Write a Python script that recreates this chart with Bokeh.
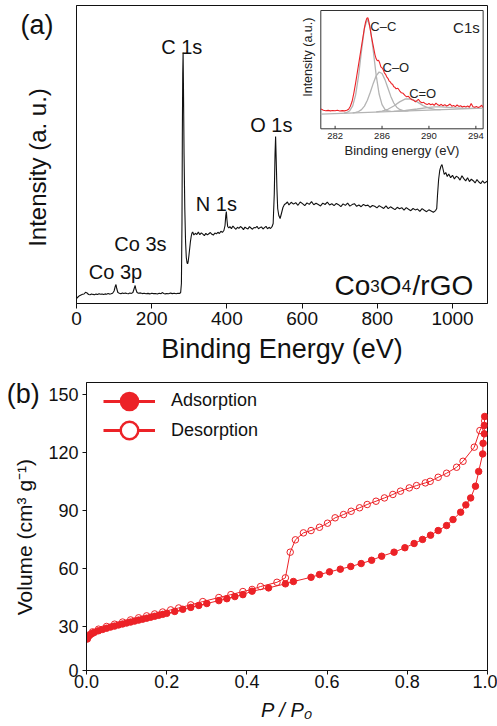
from bokeh.plotting import figure
from bokeh.layouts import column
from bokeh.models import Range1d, FixedTicker, Label, Legend, LegendItem, PrintfTickFormatter
from bokeh.core.properties import value
from bokeh.embed import file_html
from bokeh.resources import INLINE
import math

FONT = "Liberation Sans"
INK = "#111111"
RED = "#EC2227"
GRAY = "#B4B4B4"

# ---------------- data: (a) XPS survey ----------------
survey_energy = [0, 4, 8, 12, 16, 20, 24, 28, 32, 36, 40, 44, 48, 52, 56, 60, 64, 68, 72, 76, 80, 84, 88, 92, 96,
                 100, 103, 105, 107, 110, 114, 118, 122, 126, 130, 134, 138, 142, 146, 150, 153, 156, 158, 161,
                 165, 170, 175, 180, 185, 190, 195, 200, 205, 210, 215, 220, 225, 228, 232, 236, 240, 245, 250,
                 255, 260, 265, 270, 274, 277,
                 279, 280.5, 281.5, 282.5, 283.5, 284.5, 286, 288, 290, 292, 294, 295.5, 297, 299, 301, 303, 305,
                 307, 309,
                 312, 316, 320, 324, 328, 332, 336, 340, 344, 348, 352, 356, 360, 364, 368, 372, 376, 380, 384,
                 388, 392,
                 395, 397, 398.5, 400, 402, 405,
                 408, 412, 416, 420, 424, 428, 432, 436, 440, 444, 448, 452, 456, 460, 464, 468, 472, 476, 480,
                 484, 488, 492, 496, 500, 504, 508, 512, 516, 520,
                 523, 526, 528, 529.5, 531, 533, 535, 538, 541.5, 545, 549, 553, 557, 561,
                 565, 571, 577, 583, 589, 595, 601, 607, 613, 619, 625, 631, 637, 643, 649, 655, 661, 667, 673,
                 679, 685, 691, 697, 703, 709, 715, 721, 727, 733, 739, 745, 751, 757, 763, 769, 775, 781, 787,
                 793, 799, 805, 811, 817, 823, 829, 835, 841, 847, 853, 859, 865, 871, 877, 883, 889, 895, 901,
                 907, 913, 919, 925, 931, 937, 943, 949, 955,
                 958, 960, 963, 966, 969, 972, 975, 978, 982, 986,
                 990, 995, 1000, 1005, 1010, 1015, 1020, 1025, 1030, 1035, 1040, 1045, 1050, 1055, 1060, 1065,
                 1070, 1075, 1080, 1085, 1090, 1095]
survey_intensity = [5.0, 6.5, 7.8, 8.6, 9.2, 9.5, 11.2, 10.6, 9.0, 8.8, 9.6, 9.1, 8.7, 9.4, 9.0, 9.8, 9.2, 9.5,
                    8.9, 9.6, 9.3, 9.9, 9.4, 9.7, 10.2,
                    12.5, 17.0, 19.0, 15.0, 11.0, 10.3, 9.8, 10.5, 9.9, 10.4, 10.0, 9.7, 10.6, 10.1, 11.0, 14.5,
                    18.0, 14.0, 11.0,
                    10.2, 10.6, 9.9, 10.3, 9.8, 10.1, 9.6, 10.2, 9.9, 10.0, 9.5, 10.3, 9.8, 10.9, 10.1, 9.6, 10.0,
                    9.7, 10.4, 9.9, 10.2, 9.8, 10.3, 10.0, 11.0,
                    20, 80, 170, 230, 251, 215, 150, 95, 62, 46, 40.5, 39.7, 42, 48, 55, 62, 67, 70.5, 71.5,
                    68.5, 70.2, 69.0, 71.4, 68.8, 70.6, 69.3, 67.9, 70.1, 68.6, 69.8, 71.0, 69.2, 68.4, 70.5, 69.6,
                    71.2, 70.0, 72.3, 71.1, 73.0,
                    78, 88, 92, 84, 77, 75.5,
                    76.8, 74.9, 77.5, 75.6, 74.2, 76.3, 75.1, 77.0, 75.8, 73.9, 76.4, 75.2, 74.6, 76.9, 75.5, 74.3,
                    76.0, 75.7, 77.2, 74.8, 75.9, 76.6, 74.5, 75.8, 77.1, 74.7, 76.2, 75.0, 76.8,
                    80, 110, 150, 167, 145, 115, 95, 88, 85, 90, 96, 99, 100, 101.5,
                    98.6, 101.2, 99.4, 100.8, 98.2, 101.5, 99.9, 97.8, 100.6, 99.1, 101.9, 98.7, 100.2, 98.9, 97.6,
                    100.4, 99.0, 101.3, 98.5, 99.7, 97.9, 100.1, 98.8, 96.9, 99.6, 98.1, 100.3, 97.4, 98.9, 99.8,
                    97.2, 98.5, 96.8, 99.1, 97.7, 98.4, 96.2, 98.0, 97.3, 95.6, 97.9, 96.4, 95.1, 97.6, 94.8, 96.7,
                    95.3, 93.9, 96.2, 94.7, 95.8, 93.4, 95.9, 94.2, 92.8, 95.0, 93.6, 94.4, 92.1, 94.9, 93.2, 91.8,
                    93.7, 92.5, 91.2, 92.9,
                    95, 108, 124, 133, 137, 139, 134, 129, 131, 127,
                    129.5, 125.8, 128.2, 124.6, 127.3, 126.1, 123.4, 127.8, 124.9, 122.6, 125.7, 121.9, 124.3,
                    122.8, 120.6, 123.9, 121.5, 119.8, 122.7, 120.4, 121.8, 123.0]
survey_ticks = [0, 200, 400, 600, 800, 1000]
peak_names = ["Co 3p", "Co 3s", "C 1s", "N 1s", "O 1s"]
sample_name = ["Co", "3", "O", "4", "/rGO"]

# ---------------- data: (a) inset, C1s high resolution ----------------
c1s_energy = [280.8, 281.0, 281.2, 281.4, 281.6, 281.8, 282.0, 282.2, 282.4, 282.6, 282.8, 283.0, 283.15, 283.3,
              283.45, 283.6, 283.75, 283.9, 284.05, 284.2, 284.35, 284.5, 284.6, 284.7, 284.8, 284.9, 285.0,
              285.1, 285.2, 285.3, 285.4, 285.5, 285.6, 285.7, 285.8, 285.9, 286.0, 286.1, 286.2, 286.3, 286.4,
              286.5, 286.6, 286.7, 286.8, 286.9, 287.0, 287.1, 287.2, 287.35, 287.5, 287.65, 287.8, 287.95,
              288.1, 288.25, 288.4, 288.55, 288.7, 288.85, 289.0, 289.1, 289.25, 289.4, 289.55, 289.7, 289.85,
              290.0, 290.15, 290.3, 290.45, 290.6, 290.75, 290.9, 291.05, 291.2, 291.35, 291.5, 291.65, 291.8,
              291.95, 292.1, 292.25, 292.4, 292.55, 292.7, 292.85, 293.0, 293.15, 293.3, 293.45, 293.6, 293.75,
              293.9, 294.05, 294.2, 294.35, 294.5, 294.6]
c1s_intensity = [19.8, 18.6, 18.1, 18.4, 17.9, 18.3, 18.0, 18.6, 17.8, 18.2, 17.9, 18.5, 19.6, 22.5, 27.5, 36,
                 46, 57, 68, 79, 90, 101, 107, 110.5, 111, 106, 99, 92, 86, 80, 74, 70, 68, 68.5, 66, 62, 61, 59,
                 56, 54.5, 52, 50.5, 48, 47, 45, 44.5, 42, 41.5, 40, 40.5, 38, 36, 35.5, 33.5, 32, 32.5, 30.5, 29,
                 28.5, 27, 28.5, 29.5, 27, 26, 26.5, 25, 24.2, 25.3, 24, 24.8, 23.5, 25.6, 24, 23.2, 24.5, 23,
                 24.2, 22.8, 23.6, 24.8, 22.6, 23.3, 22.2, 23.8, 22.4, 23.1, 21.8, 22.6, 21.9, 22.8, 21.6, 25.2,
                 22, 21.5, 22.4, 21.2, 22.1, 23.5, 21.4]
cc_energy = [282.75, 283.0, 283.25, 283.5, 283.75, 284.0, 284.25, 284.5, 284.75, 285.0, 285.25, 285.5, 285.75,
             286.0, 286.25, 286.5, 286.75]
cc_fit = [15.6, 16.3, 18.1, 23.0, 33.9, 52.9, 77.9, 100.5, 109.7, 100.7, 78.3, 53.6, 34.8, 24.1, 19.4, 17.8, 17.4]
co_energy = [283.5, 283.75, 284.0, 284.25, 284.5, 284.75, 285.0, 285.25, 285.5, 285.75, 286.0, 286.25, 286.5,
             286.75, 287.0, 287.25, 287.5, 287.75, 288.0, 288.25]
co_fit = [16.0, 16.4, 17.3, 19.2, 22.7, 28.5, 36.5, 45.4, 53.0, 56.8, 55.3, 49.2, 40.8, 32.4, 25.8, 21.6, 19.4,
          18.4, 18.0, 18.0]
cdo_energy = [285.5, 286.0, 286.5, 287.0, 287.5, 288.0, 288.5, 289.0, 289.5, 290.0, 290.5, 291.0]
cdo_fit = [16.9, 17.7, 19.5, 22.8, 26.9, 29.9, 29.8, 26.9, 23.2, 20.6, 19.5, 19.2]
pi_energy = [287.0, 288.0, 289.0, 290.0, 290.5, 291.0, 292.0, 293.0, 294.0]
pi_fit = [17.5, 18.3, 19.8, 21.5, 21.9, 21.9, 21.1, 20.5, 20.5]
bg_energy = [280.78, 294.62]
bg_fit = [14.7, 20.7]
inset_ticks = [282, 286, 290, 294]
component_names = ["C\u2013C", "C\u2013O", "C=O"]

# ---------------- data: (b) N2 isotherm ----------------
p_ads = [0.002, 0.005, 0.01, 0.015, 0.02, 0.03, 0.04, 0.05, 0.06, 0.07, 0.08, 0.09, 0.10, 0.11, 0.12, 0.13, 0.14,
         0.15, 0.16, 0.17, 0.18, 0.19, 0.20, 0.22, 0.24, 0.26, 0.28, 0.30, 0.33, 0.35, 0.37, 0.39,
         0.413, 0.454, 0.496, 0.516, 0.560, 0.581, 0.606, 0.633, 0.659, 0.685, 0.711, 0.736, 0.767, 0.794, 0.817,
         0.838, 0.858, 0.877, 0.898, 0.914, 0.933, 0.946, 0.958, 0.970, 0.978, 0.988, 0.989, 0.992, 0.992, 0.993]
v_ads = [23.5, 24.8, 25.8, 26.5, 27.0, 27.8, 28.5, 29.1, 29.7, 30.2, 30.8, 31.3, 31.8, 32.3, 32.8, 33.3, 33.8,
         34.3, 34.8, 35.3, 35.8, 36.3, 36.8, 37.8, 38.9, 39.9, 40.9, 41.9, 43.4, 44.4, 45.5, 46.5,
         48.3, 50.0, 52.1, 53.3, 55.5, 56.9, 58.3, 59.7, 61.1, 62.6, 64.3, 66.4, 68.5, 70.8, 73.0,
         75.1, 77.3, 79.7, 82.3, 85.4, 89.2, 93.0, 96.6, 102.7, 110.3, 119.4, 124.9, 129.8, 134.1, 138.8]
p_des = [0.993, 0.981, 0.967, 0.939, 0.923, 0.898, 0.877, 0.857, 0.845, 0.823, 0.805, 0.783, 0.764, 0.743, 0.722,
         0.700, 0.681, 0.660, 0.641, 0.620, 0.601, 0.581, 0.560, 0.541, 0.521, 0.508, 0.496, 0.475, 0.434, 0.413,
         0.39, 0.36, 0.33, 0.29, 0.26, 0.23, 0.21, 0.19, 0.17, 0.15, 0.13, 0.11, 0.09, 0.07, 0.05, 0.03, 0.015,
         0.005]
v_des = [136.5, 131.5, 122.9, 115.6, 112.5, 109.4, 107.3, 105.2, 104.4, 103.0, 101.8, 100.1, 98.4, 96.6, 94.9,
         93.2, 91.5, 89.7, 88.0, 86.3, 83.5, 81.4, 79.7, 78.5, 74.9, 68.5, 55.2, 52.9, 50.7, 49.2,
         48.1, 46.5, 45.0, 42.9, 41.2, 39.6, 38.6, 37.5, 36.5, 35.5, 34.5, 33.4, 32.3, 31.2, 30.0, 28.6, 27.2,
         25.5]
iso_xticks = [0.0, 0.2, 0.4, 0.6, 0.8, 1.0]
iso_yticks = [0, 30, 60, 90, 120, 150]
series_names = ["Adsorption", "Desorption"]

# layout: each figure gets a wide left margin (so margin texts are not clipped) and is
# shifted left by CSS so that its frame lands where the reference frame is.
RESERVE = 140


def shifted_styles(width, shift):
    return {"margin-left": f"-{shift}px", "width": f"{width}px", "min-width": f"{width}px",
            "max-width": "none", "flex-shrink": "0"}


def style_axes(p):
    p.xgrid.visible = False
    p.ygrid.visible = False
    p.outline_line_color = INK
    p.outline_line_alpha = 1
    p.outline_line_width = 1
    p.background_fill_color = "white"
    p.border_fill_color = "white"
    for ax in (p.xaxis, p.yaxis):
        ax.axis_line_color = INK
        ax.major_tick_line_color = INK
        ax.minor_tick_line_color = None
        ax.major_tick_in = 0
        ax.major_label_text_font = FONT
        ax.major_label_text_color = INK
        ax.axis_label_text_font = FONT
        ax.axis_label_text_color = INK
        ax.axis_label_text_font_style = "normal"


def side_label(p, x, y, text, size, angle=0.0, align="left", baseline="alphabetic"):
    p.add_layout(Label(x=x, y=y, text=text, angle=angle, text_font=FONT, text_font_size=size,
                       text_color=INK, text_align=align, text_baseline=baseline), "left")


# ================= panel (a) =================
a_left = 76
a_width = 497 + RESERVE - a_left
pa = figure(width=a_width, height=372, x_range=Range1d(0, 1093), y_range=Range1d(0, 298),
            output_backend="svg", toolbar_location=None,
            min_border_left=RESERVE, min_border_right=10, min_border_top=5, min_border_bottom=69,
            styles=shifted_styles(a_width, RESERVE - a_left))
style_axes(pa)
pa.xaxis.ticker = FixedTicker(ticks=survey_ticks)
pa.xaxis.major_tick_out = 5
pa.xaxis.major_label_text_font_size = "19px"
pa.xaxis.major_label_standoff = 3
pa.xaxis.axis_label = "Binding Energy (eV)"
pa.xaxis.axis_label_text_font_size = "27px"
pa.xaxis.axis_label_standoff = 6
pa.yaxis.ticker = FixedTicker(ticks=[])
pa.yaxis.major_tick_line_color = None
pa.yaxis.major_tick_out = 0
pa.yaxis.major_label_standoff = 0

pa.line(survey_energy, survey_intensity, line_color=INK, line_width=1.1)

pa.text(x=[103.7, 170, 279.8, 372, 518], y=[31.3, 59.7, 256.3, 99.7, 179], text=peak_names,
        text_font=value(FONT), text_font_size="20px", text_color=INK,
        text_align="center", text_baseline="alphabetic")

# sample name with small digits
pa.text(x=[686.2] * 3, y=[18] * 3, x_offset=[0, 45.3, 78.0],
        text=[sample_name[0], sample_name[2], sample_name[4]],
        text_font=value(FONT), text_font_size="28px", text_color=INK,
        text_align="left", text_baseline="alphabetic")
pa.text(x=[686.2] * 2, y=[18] * 2, x_offset=[35.8, 67.1], text=[sample_name[1], sample_name[3]],
        text_font=value(FONT), text_font_size="17px", text_color=INK,
        text_align="left", text_baseline="alphabetic")

side_label(pa, -148.9, 279.0, "(a)", "27px")
side_label(pa, -103.7, 136, "Intensity (a. u.)", "24px", angle=math.pi / 2, align="center", baseline="middle")

# ---- inset (sub-coordinates) ----
ix = Range1d(280.78, 294.62)
iy = Range1d(0, 118.3)
ins = pa.subplot(x_source=ix, y_source=iy,
                 x_target=Range1d(649.7, 1081.4), y_target=Range1d(174.7, 293))
ins.quad(left=[ix.start], right=[ix.end], bottom=[iy.start], top=[iy.end],
         fill_color="white", line_color="#333333", line_width=1)
for ex, fy in [(bg_energy, bg_fit), (pi_energy, pi_fit), (cdo_energy, cdo_fit),
               (co_energy, co_fit), (cc_energy, cc_fit)]:
    ins.line(ex, fy, line_color=GRAY, line_width=1.3)
ins.line(c1s_energy, c1s_intensity, line_color=RED, line_width=1.1)
ins.segment(x0=inset_ticks, y0=[0] * len(inset_ticks), x1=inset_ticks, y1=[3] * len(inset_ticks),
            line_color="#333333", line_width=1)
ins.text(x=inset_ticks, y=[-6.7] * len(inset_ticks), text=[str(t) for t in inset_ticks],
         text_font=value(FONT), text_font_size="9.5px", text_color="#222222",
         text_align="center", text_baseline="middle")
ins.text(x=[(ix.start + ix.end) / 2], y=[-21.7], text=["Binding energy (eV)"],
         text_font=value(FONT), text_font_size="13px", text_color="#222222",
         text_align="center", text_baseline="middle")
ins.text(x=[279.67], y=[71.6], text=["Intensity (a.u.)"], angle=math.pi / 2,
         text_font=value(FONT), text_font_size="12.5px", text_color="#222222",
         text_align="center", text_baseline="middle")
ins.text(x=[285.0, 286.04, 288.31], y=[102, 61.6, 35.6], text=component_names,
         text_font=value(FONT), text_font_size="13px", text_color="#222222",
         text_align="left", text_baseline="alphabetic")
ins.text(x=[294.33], y=[101.6], text=["C1s"],
         text_font=value(FONT), text_font_size="15px", text_color="#222222",
         text_align="right", text_baseline="alphabetic")

# ================= panel (b) =================
b_left = 86
b_width = 497 + RESERVE - b_left
y_lo, y_hi = 7.2, 156.4
pb = figure(width=b_width, height=354, x_range=Range1d(0, 1.0), y_range=Range1d(y_lo, y_hi),
            output_backend="svg", toolbar_location=None,
            min_border_left=RESERVE, min_border_right=9, min_border_top=10, min_border_bottom=56,
            styles=shifted_styles(b_width, RESERVE - b_left))
style_axes(pb)
pb.xaxis.ticker = FixedTicker(ticks=iso_xticks)
pb.xaxis.formatter = PrintfTickFormatter(format="%.1f")
pb.yaxis.ticker = FixedTicker(ticks=[y_lo] + iso_yticks[1:])
pb.yaxis.major_label_overrides = {y_lo: str(iso_yticks[0])}
for ax in (pb.xaxis, pb.yaxis):
    ax.major_tick_out = 4
    ax.major_label_text_font_size = "18px"
pb.xaxis.major_label_standoff = 0
pb.yaxis.major_label_standoff = 4
pb.xaxis.axis_label = "P / P\u2080"
pb.xaxis.axis_label_text_font_style = "italic"
pb.xaxis.axis_label_text_font_size = "20px"
pb.xaxis.axis_label_standoff = 8

pb.line(p_des, v_des, line_color=RED, line_width=1)
pb.scatter(p_des, v_des, marker="circle", size=6.5, fill_color=None, line_color=RED, line_width=1)
pb.line(p_ads, v_ads, line_color=RED, line_width=1)
pb.scatter(p_ads, v_ads, marker="circle", size=6.5, fill_color=RED, line_color=RED, line_width=1)

side_label(pb, -0.199, 150.6, "(b)", "27px")
side_label(pb, -0.154, 76.3, "Volume (cm\u00b3 g\u207b\u00b9)", "21px", angle=math.pi / 2,
           align="center", baseline="middle")

# legend proxies (hidden renderers, one point each, used only for the legend swatches)
l1 = pb.line(p_ads[:1], v_ads[:1], line_color=RED, line_width=3, visible=False)
m1 = pb.scatter(p_ads[:1], v_ads[:1], marker="circle", fill_color=RED, line_color=RED, line_width=2,
                visible=False)
l2 = pb.line(p_des[:1], v_des[:1], line_color=RED, line_width=3, visible=False)
m2 = pb.scatter(p_des[:1], v_des[:1], marker="circle", fill_color="white", line_color=RED, line_width=2.5,
                visible=False)
for (lr, mr), name, vy in [((l1, m1), series_names[0], 247.3), ((l2, m2), series_names[1], 218)]:
    pb.add_layout(Legend(items=[LegendItem(label=name, renderers=[lr, mr])],
                         location=(17, vy), glyph_width=52, glyph_height=44,
                         padding=0, margin=0, label_standoff=16,
                         label_text_font=FONT, label_text_font_size="18px", label_text_color=INK,
                         border_line_color=None, background_fill_alpha=0))

layout = column(pa, pb, spacing=0)
open("out.html", "w").write(file_html(layout, INLINE))
